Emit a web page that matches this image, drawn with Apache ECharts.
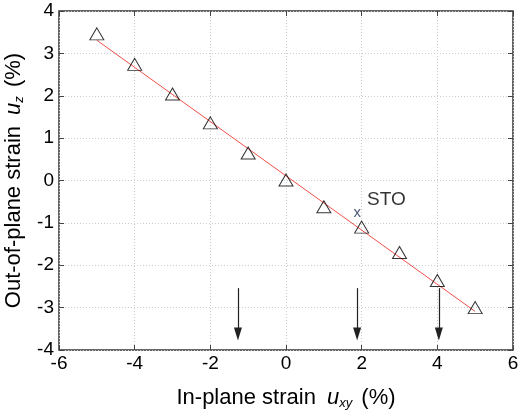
<!DOCTYPE html>
<html><head><meta charset="utf-8">
<script src="https://cdn.jsdelivr.net/npm/echarts@6/dist/echarts.min.js"></script>
<style>html,body{margin:0;padding:0;background:#fff}#c{width:524px;height:417px}</style>
</head><body><div id="c"></div>
<script>
var strainX = [-5, -4, -3, -2, -1, 0, 1, 2, 3, 4, 5];
var strainZ = [3.46, 2.74, 2.04, 1.36, 0.65, 0.01, -0.62, -1.10, -1.70, -2.36, -3.00];
var fitX = [-5, 5];
var fitZ = [3.31, -3.09];
var arrowX = [-1.27, 1.88, 4.04];
var arrowTop = -2.54;
var arrowTip = -3.62;
var stoMark = [1.88, -0.76];
var stoLabel = [2.14, -0.46];

var font = 'Liberation Sans, Arial, sans-serif';
var chart = echarts.init(document.getElementById('c'), null, {renderer: 'canvas'});

var pts = strainX.map(function (x, i) { return [x, strainZ[i]]; });
var fit = fitX.map(function (x, i) { return [x, fitZ[i]]; });
var arrowLines = arrowX.map(function (x) {
  return [{coord: [x, arrowTop]}, {coord: [x, arrowTip]}];
});

var axisCommon = {
  axisLine: {show: false, onZero: false},
  axisTick: {show: true, inside: true, length: 5, lineStyle: {color: '#444', width: 1}},
  splitLine: {show: false}
};
var titleRich = {
  n: {fontSize: 22, fontFamily: font, color: '#000'},
  u: {fontSize: 22, fontFamily: font, fontStyle: 'italic', color: '#000', padding: [0, 0, 0, 5]},
  s: {fontSize: 13, fontFamily: font, fontStyle: 'italic', color: '#000', verticalAlign: 'bottom', padding: [12, 3, 0, 0]}
};

chart.setOption({
  animation: false,
  grid: {left: 59, right: 11, top: 11, bottom: 67, containLabel: false, outerBoundsMode: 'none',
    show: true, borderColor: '#333', borderWidth: 1.5, backgroundColor: 'transparent'},
  xAxis: [
    Object.assign({}, axisCommon, {
      type: 'value', min: -6, max: 6, interval: 2, position: 'bottom',
      axisLabel: {color: '#000', fontSize: 19, fontFamily: font, margin: 4},
      splitLine: {show: true, lineStyle: {color: '#ccc', type: [1, 2], width: 1}},
      name: '{n|In-plane strain }{u|u}{s|xy}{n| (%)}',
      nameLocation: 'middle', nameGap: 35,
      nameTextStyle: {rich: titleRich}
    }),
    Object.assign({}, axisCommon, {
      type: 'value', min: -6, max: 6, interval: 2, position: 'top',
      axisLabel: {show: false}
    })
  ],
  yAxis: [
    Object.assign({}, axisCommon, {
      type: 'value', min: -4, max: 4, interval: 1, position: 'left',
      axisLabel: {color: '#000', fontSize: 19, fontFamily: font, margin: 5},
      splitLine: {show: true, lineStyle: {color: '#ccc', type: [1, 2], width: 1}},
      name: '{n|Out-of-plane strain }{u|u}{s|z}{n| (%)}',
      nameLocation: 'middle', nameGap: 26, nameRotate: 90,
      nameTextStyle: {rich: titleRich}
    }),
    Object.assign({}, axisCommon, {
      type: 'value', min: -4, max: 4, interval: 1, position: 'right',
      axisLabel: {show: false}
    })
  ],
  series: [
    {
      type: 'line', data: fit, showSymbol: false, symbol: 'none',
      lineStyle: {color: '#f0504a', width: 1}, z: 2,
      markLine: {
        silent: true, symbol: ['none', 'triangle'], symbolSize: [8, 13],
        lineStyle: {color: '#222', width: 1.2, type: 'solid'},
        label: {show: false},
        data: arrowLines
      }
    },
    {
      type: 'scatter', data: pts, symbol: 'triangle', symbolSize: [14, 12],
      itemStyle: {color: 'rgba(255,255,255,0)', borderColor: '#000', borderWidth: 1}, z: 3
    },
    {
      type: 'scatter', data: [stoMark], symbolSize: 0,
      label: {show: true, position: 'inside', formatter: 'x', color: '#1a2a55', fontSize: 15, fontFamily: font}
    },
    {
      type: 'scatter', data: [stoLabel], symbolSize: 0,
      label: {show: true, position: 'right', distance: 0, formatter: 'STO', color: '#000', fontSize: 19, fontFamily: font}
    }
  ]
});
</script></body></html>
